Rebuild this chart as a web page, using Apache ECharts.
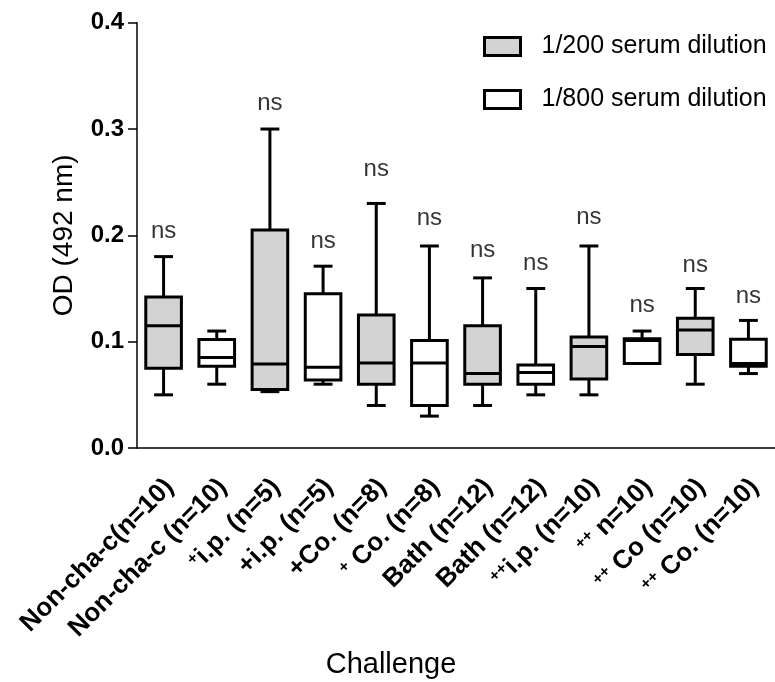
<!DOCTYPE html>
<html>
<head>
<meta charset="utf-8">
<script src="https://cdn.jsdelivr.net/npm/echarts@6/dist/echarts.min.js"></script>
<style>
html,body{margin:0;padding:0;background:#fff;}
#chart{width:775px;height:682px;}
</style>
</head>
<body>
<div id="chart"></div>
<script>
// ---- Data ----
const categories = [
  'Non-cha-c(n=10)', 'Non-cha-c (n=10)', '⁺i.p. (n=5)', '+i.p. (n=5)',
  '+Co. (n=8)', '⁺ Co. (n=8)', 'Bath (n=12)', 'Bath (n=12)',
  '⁺⁺i.p. (n=10)', '⁺⁺ n=10)', '⁺⁺ Co (n=10)', '⁺⁺ Co. (n=10)'
];
const seriesNames = ['1/200 serum dilution', '1/800 serum dilution'];
// [min, Q1, median, Q3, max] for categories 0,2,4,... (1/200)
const dil200Stats = [
  [0.050, 0.075, 0.115, 0.142, 0.180],
  [0.053, 0.055, 0.079, 0.205, 0.300],
  [0.040, 0.060, 0.080, 0.125, 0.230],
  [0.040, 0.060, 0.070, 0.115, 0.160],
  [0.050, 0.065, 0.0955, 0.1045, 0.190],
  [0.060, 0.088, 0.111, 0.122, 0.150]
];
// [min, Q1, median, Q3, max] for categories 1,3,5,... (1/800)
const dil800Stats = [
  [0.060, 0.077, 0.085, 0.102, 0.110],
  [0.060, 0.064, 0.076, 0.145, 0.171],
  [0.030, 0.040, 0.080, 0.101, 0.190],
  [0.050, 0.060, 0.071, 0.078, 0.150],
  [0.0795, 0.0795, 0.101, 0.1027, 0.110],
  [0.070, 0.077, 0.0795, 0.1023, 0.120]
];
// level of the "ns" annotation above each box (null = none)
const nsLevels = [0.204, null, 0.324, 0.194, 0.262, 0.216, 0.186, 0.174, 0.217, 0.134, 0.172, 0.143];
const yTicks = [0, 0.1, 0.2, 0.3, 0.4];

// ---- Build ----
const FONT = 'Liberation Sans, Arial, Helvetica, sans-serif';
const dataA = dil200Stats.map((s, i) => [i * 2].concat(s));
const dataB = dil800Stats.map((s, i) => [i * 2 + 1].concat(s));
const nsData = nsLevels.map((v, i) => v == null ? null : [i, v]).filter(d => d);

function renderBox(params, api) {
  const x = api.value(0);
  const mn = api.value(1), q1 = api.value(2), md = api.value(3), q3 = api.value(4), mx = api.value(5);
  const cx = api.coord([x, md])[0];
  const yMin = api.coord([x, mn])[1];
  const yQ1 = api.coord([x, q1])[1];
  const yMd = api.coord([x, md])[1];
  const yQ3 = api.coord([x, q3])[1];
  const yMax = api.coord([x, mx])[1];
  const bw = api.size([1, 0])[0] * 0.67;
  const cw = bw * 0.53;
  const fill = api.visual('color');
  const ls = {stroke: '#000', lineWidth: 3, fill: null};
  return {
    type: 'group',
    children: [
      {type: 'line', shape: {x1: cx, y1: yQ3, x2: cx, y2: yMax}, style: ls},
      {type: 'line', shape: {x1: cx, y1: yQ1, x2: cx, y2: yMin}, style: ls},
      {type: 'line', shape: {x1: cx - cw / 2, y1: yMax, x2: cx + cw / 2, y2: yMax}, style: ls},
      {type: 'line', shape: {x1: cx - cw / 2, y1: yMin, x2: cx + cw / 2, y2: yMin}, style: ls},
      {type: 'rect', shape: {x: cx - bw / 2, y: yQ3, width: bw, height: yQ1 - yQ3},
        style: {fill: fill, stroke: '#000', lineWidth: 3}},
      {type: 'line', shape: {x1: cx - bw / 2, y1: yMd, x2: cx + bw / 2, y2: yMd}, style: ls}
    ]
  };
}

function fmtLabel(s) {
  return s.replace(/⁺+/g, m => '{sup|' + '+'.repeat(m.length) + '}');
}

const chart = echarts.init(document.getElementById('chart'));
chart.setOption({
  animation: false,
  backgroundColor: '#fff',
  textStyle: {fontFamily: FONT},
  grid: {left: 137, top: 22.7, bottom: 234, width: 643, containLabel: false},
  legend: {
    orient: 'vertical',
    left: 483, top: 34, padding: 0,
    itemWidth: 36, itemHeight: 18, itemGap: 28,
    textStyle: {fontSize: 25, color: '#000', fontFamily: FONT, padding: [0, 0, 0, 16]},
    data: [
      {name: seriesNames[0], icon: 'rect', itemStyle: {color: '#d3d3d3', borderColor: '#000', borderWidth: 3}},
      {name: seriesNames[1], icon: 'rect', itemStyle: {color: '#fff', borderColor: '#000', borderWidth: 3}}
    ]
  },
  xAxis: {
    type: 'category',
    data: categories,
    boundaryGap: true,
    axisLine: {lineStyle: {color: '#000', width: 1.5}},
    axisTick: {alignWithLabel: true, length: 9, lineStyle: {color: '#000', width: 1.5}},
    axisLabel: {
      interval: 0, rotate: 45, margin: 29, padding: [17, 0, 0, 0],
      fontSize: 26, fontWeight: 'bold', color: '#000', fontFamily: FONT,
      formatter: fmtLabel,
      rich: {sup: {fontSize: 16, fontWeight: 'bold', color: '#000', verticalAlign: 'top', fontFamily: FONT}}
    },
    splitLine: {show: false}
  },
  yAxis: {
    type: 'value',
    min: yTicks[0], max: yTicks[yTicks.length - 1], interval: 0.1,
    name: 'OD (492 nm)', nameLocation: 'middle', nameGap: 59,
    nameTextStyle: {fontSize: 28, color: '#000', fontFamily: FONT},
    axisLine: {show: true, lineStyle: {color: '#000', width: 1.5}},
    axisTick: {show: true, length: 9, lineStyle: {color: '#000', width: 1.5}},
    axisLabel: {fontSize: 24, fontWeight: 'bold', color: '#000', margin: 13, fontFamily: FONT,
      formatter: v => v.toFixed(1)},
    splitLine: {show: false}
  },
  graphic: [{
    type: 'text', x: 391, y: 665,
    style: {text: 'Challenge', fontSize: 29, fill: '#000', fontFamily: FONT, align: 'center', verticalAlign: 'middle'}
  }],
  series: [
    {name: seriesNames[0], type: 'custom', renderItem: renderBox, data: dataA,
      itemStyle: {color: '#d3d3d3', borderColor: '#000'}, encode: {x: 0, y: [1, 2, 3, 4, 5]}, z: 2},
    {name: seriesNames[1], type: 'custom', renderItem: renderBox, data: dataB,
      itemStyle: {color: '#fff', borderColor: '#000'}, encode: {x: 0, y: [1, 2, 3, 4, 5]}, z: 2},
    {name: 'ns', type: 'scatter', data: nsData, symbolSize: 1, itemStyle: {color: 'rgba(0,0,0,0)'},
      label: {show: true, position: 'inside', formatter: 'ns', fontSize: 24, color: '#000',
        textBorderWidth: 0, fontFamily: FONT},
      z: 3, silent: true}
  ]
});
</script>
</body>
</html>
